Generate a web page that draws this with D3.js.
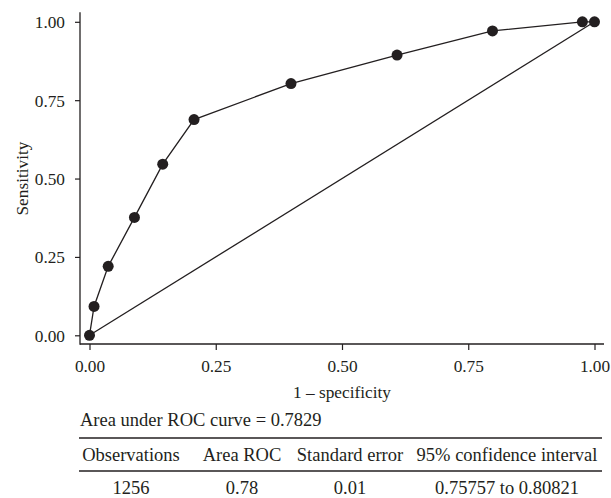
<!DOCTYPE html>
<html>
<head>
<meta charset="utf-8">
<script src="https://cdn.jsdelivr.net/npm/d3@7"></script>
<style>
  html, body { margin: 0; padding: 0; background: #fff; }
  svg text { font-family: "Liberation Serif", "Times New Roman", serif; fill: #231f20; }
</style>
</head>
<body>
<svg id="chart" width="611" height="498"></svg>
<script>
// ---- data ----
const fpr = [0, 0.009, 0.037, 0.089, 0.145, 0.207, 0.399, 0.609, 0.798, 0.976, 1];
const tpr = [0, 0.092, 0.220, 0.376, 0.546, 0.688, 0.803, 0.894, 0.971, 1.0, 1.0];
const refLine = [[0, 0], [1, 1]];
const xTicks = [0, 0.25, 0.5, 0.75, 1];
const yTicks = [0, 0.25, 0.5, 0.75, 1];
const xTitle = "1 \u2013 specificity";
const yTitle = "Sensitivity";
const aucNote = "Area under ROC curve = 0.7829";
const tableHeader = ["Observations", "Area ROC", "Standard error", "95% confidence interval"];
const tableRow = ["1256", "0.78", "0.01", "0.75757 to 0.80821"];

// ---- drawing ----
const svg = d3.select("#chart");
const ink = "#231f20";
const fs = 17.3;   // axis text
const fsT = 18.5;  // note and table text

const x = d3.scaleLinear().domain([0, 1]).range([89.5, 594.5]);
const y = d3.scaleLinear().domain([0, 1]).range([335.3, 21.8]);
const pad = 9.5;

// axes
const xAxis = svg.append("g").attr("transform", "translate(0,344)")
  .call(d3.axisBottom(x).tickValues(xTicks).tickFormat(d3.format(".2f")).tickSize(6).tickSizeOuter(0));
xAxis.select(".domain").remove();
xAxis.append("line").attr("x1", x(0) - pad).attr("x2", x(1) + pad).attr("y1", 0).attr("y2", 0)
  .attr("stroke", ink).attr("stroke-width", 1.3);
xAxis.selectAll(".tick line").attr("stroke", ink).attr("stroke-width", 1.2);
xAxis.selectAll(".tick text").attr("font-size", fs).attr("font-family", "Liberation Serif").attr("fill", ink)
  .attr("dy", null).attr("y", 28);

const yAxis = svg.append("g").attr("transform", "translate(80,0)")
  .call(d3.axisLeft(y).tickValues(yTicks).tickFormat(d3.format(".2f")).tickSize(5).tickSizeOuter(0));
yAxis.select(".domain").remove();
yAxis.append("line").attr("x1", 0).attr("x2", 0).attr("y1", y(1) - pad).attr("y2", y(0) + pad)
  .attr("stroke", ink).attr("stroke-width", 1.3);
yAxis.selectAll(".tick line").attr("stroke", ink).attr("stroke-width", 1.2);
yAxis.selectAll(".tick text").attr("font-size", fs).attr("font-family", "Liberation Serif").attr("fill", ink)
  .attr("dy", "0.34em").attr("x", -15);

// titles
svg.append("text").attr("x", (x(0) + x(1)) / 2).attr("y", 398).attr("text-anchor", "middle")
  .attr("font-size", fs).text(xTitle);
svg.append("text").attr("transform", `translate(28,${(y(0) + y(1)) / 2}) rotate(-90)`)
  .attr("text-anchor", "middle").attr("font-size", fs).text(yTitle);

// reference diagonal
const line = d3.line().x(d => x(d[0])).y(d => y(d[1]));
svg.append("path").datum(refLine).attr("d", line).attr("fill", "none")
  .attr("stroke", ink).attr("stroke-width", 1.3);

// ROC curve
const pts = fpr.map((v, i) => [v, tpr[i]]);
svg.append("path").datum(pts).attr("d", line).attr("fill", "none")
  .attr("stroke", ink).attr("stroke-width", 1.3);
svg.append("g").selectAll("circle").data(pts).join("circle")
  .attr("cx", d => x(d[0])).attr("cy", d => y(d[1])).attr("r", 5.5)
  .attr("fill", ink);

// AUC note and table
svg.append("text").attr("x", 80).attr("y", 426).attr("font-size", fsT).text(aucNote);

const tableLeft = 79, tableRight = 602;
[438, 471].forEach(yy => {
  svg.append("line").attr("x1", tableLeft).attr("x2", tableRight).attr("y1", yy).attr("y2", yy)
    .attr("stroke", ink).attr("stroke-width", 1.6);
});
const colCenter = [131, 242, 350, 507];
svg.append("g").selectAll("text").data(tableHeader).join("text")
  .attr("x", (d, i) => colCenter[i]).attr("y", 461).attr("text-anchor", "middle")
  .attr("font-size", fsT).text(d => d);
svg.append("g").selectAll("text").data(tableRow).join("text")
  .attr("x", (d, i) => colCenter[i]).attr("y", 494).attr("text-anchor", "middle")
  .attr("font-size", fsT).text(d => d);
</script>
</body>
</html>
